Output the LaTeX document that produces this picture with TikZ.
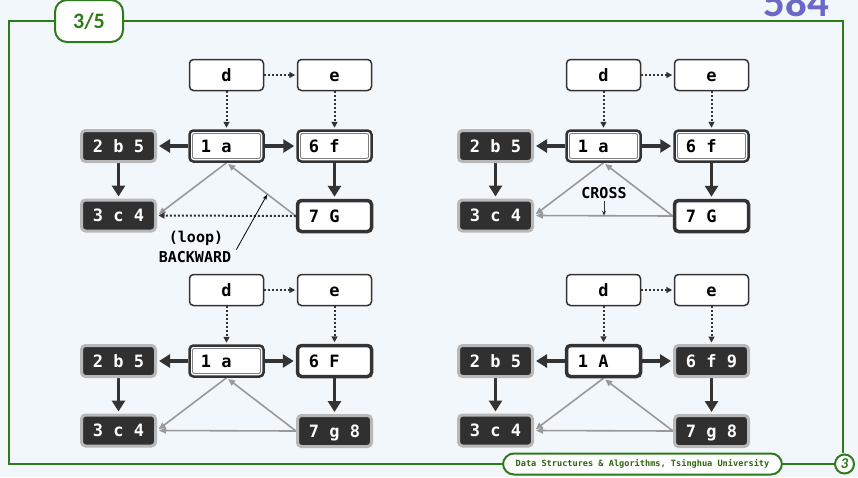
\documentclass[tikz,border=0pt]{standalone}
\usepackage{fontspec}
\setmonofont{DejaVu Sans Mono}
\newfontfamily\carlito{Carlito}
\usetikzlibrary{arrows.meta}
\definecolor{bg}{HTML}{F2F7FC}
\definecolor{frame}{HTML}{2F7A1A}
\definecolor{ftext}{HTML}{2E6410}
\definecolor{dk}{HTML}{333333}
\definecolor{fin}{HTML}{303030}
\definecolor{finb}{HTML}{B8B8B8}
\definecolor{gedge}{HTML}{999999}
\definecolor{purp}{HTML}{6B68C9}
\pgfdeclarelayer{back}
\pgfsetlayers{back,main}
\tikzset{
 vtx/.style={rounded corners=4pt, minimum width=74pt, minimum height=31pt, inner sep=0pt,
   text height=14pt, text depth=2pt, font=\ttfamily\bfseries\fontsize{17}{17}\selectfont, text=black},
 plainv/.style={vtx, draw=dk, line width=1.5pt, fill=white},
 discv/.style={vtx, draw=dk, line width=2.5pt, fill=white,
   path picture={\draw[gray, line width=0.9pt, rounded corners=2pt]
     ([shift={(3pt,-3pt)}]path picture bounding box.north west) rectangle
     ([shift={(-3pt,3pt)}]path picture bounding box.south east);}},
 curv/.style={vtx, draw=dk, line width=3.5pt, fill=white},
 finv/.style={vtx, draw=finb, line width=3pt, fill=fin, text=white},
 treeedge/.style={draw=dk, line width=3.5pt, -{Triangle[length=11pt,width=13pt]}, shorten >=2pt},
 dotedge/.style={draw=dk, line width=2pt, dash pattern=on 2pt off 2pt, -{Triangle[length=6pt,width=6pt]}, shorten >=1.5pt},
 grayedge/.style={draw=gedge, line width=1.6pt, -{Triangle[length=7pt,width=6pt]}, shorten >=2pt},
 lbl/.style={font=\ttfamily\bfseries\fontsize{15}{15}\selectfont, inner sep=0pt, text=black},
 pointer/.style={draw=black, line width=0.8pt, -{Stealth[length=6pt,width=4pt]}},
 greenline/.style={draw=frame, line width=2pt},
}
\begin{document}
\begin{tikzpicture}[x=1pt,y=-1pt]
\useasboundingbox (0,0) rectangle (858,477);
\begin{pgfonlayer}{back}
\fill[bg] (0,0) rectangle (858,477);
\draw[greenline] (834,464) -- (9,464) -- (9,21) -- (843,21) -- (843,453);
\end{pgfonlayer}

% header / footer
\node[draw=frame, line width=2pt, fill=white, rounded corners=12pt, minimum width=68pt, minimum height=42pt,
  inner sep=0pt, text=frame, font=\carlito\bfseries\fontsize{22}{22}\selectfont] (tab) at (89,21) {3/5};
\node[anchor=base east, inner sep=0pt, text=purp, font=\carlito\bfseries\fontsize{43}{43}\selectfont] (pg) at (829,16) {584};
\node[draw=frame, line width=2pt, fill=white, rounded corners=11pt, minimum width=279pt, minimum height=21pt,
  inner sep=0pt, text=ftext, font=\ttfamily\bfseries\fontsize{8.6}{9}\selectfont] (foot) at (642.5,464)
  {Data Structures \& Algorithms, Tsinghua University};
\node[draw=frame, line width=2pt, fill=white, circle, minimum size=19pt, inner sep=0pt, text=frame,
  font=\carlito\bfseries\itshape\fontsize{15}{15}\selectfont] (pnum) at (844.5,464) {3};

% ---------- diagram A (top left) ----------
\node[plainv] (Ad) at (226.5,75) {d};
\node[plainv] (Ae) at (334.5,75) {e};
\node[discv] (A1) at (226.5,146) {1 a\hphantom{00}};
\node[discv] (A6) at (334.5,146) {6 f\hphantom{00}};
\node[finv] (A2) at (118.5,146) {2 b 5};
\node[finv] (A3) at (118.5,215.5) {3 c 4};
\node[curv] (A7) at (334.5,216) {7 G\hphantom{00}};
\node[lbl] (Aloop) at (196,238) {(loop)};
\node[lbl] (Abwd) at (195,257.5) {BACKWARD};
\begin{pgfonlayer}{back}
\draw[dotedge] (Ad) -- (Ae);
\draw[dotedge] (Ad) -- (A1);
\draw[dotedge] (Ae) -- (A6);
\draw[treeedge] (A1) -- (A2);
\draw[treeedge] (A1) -- (A6);
\draw[treeedge] (A2) -- (A3);
\draw[treeedge] (A6) -- (A7);
\draw[grayedge] (A1.south) -- (A3.east);
\draw[grayedge] (A7.west) -- (A1.south);
\draw[dotedge] (A7.west) -- (A3.east);
\end{pgfonlayer}
\path (A7.west) -- (A1.south) coordinate[pos=0.41] (Abw);
\draw[pointer] ([shift={(5pt,2pt)}]Abwd.north east) -- (Abw);

% ---------- diagram B (top right) ----------
\begin{scope}[shift={(377,0)}]
\node[plainv] (Bd) at (226.5,75) {d};
\node[plainv] (Be) at (334.5,75) {e};
\node[discv] (B1) at (226.5,146) {1 a\hphantom{00}};
\node[discv] (B6) at (334.5,146) {6 f\hphantom{00}};
\node[finv] (B2) at (118.5,146) {2 b 5};
\node[finv] (B3) at (118.5,215.5) {3 c 4};
\node[curv] (B7) at (334.5,216) {7 G\hphantom{00}};
\node[lbl] (Bcross) at (227,193) {CROSS};
\end{scope}
\begin{pgfonlayer}{back}
\draw[dotedge] (Bd) -- (Be);
\draw[dotedge] (Bd) -- (B1);
\draw[dotedge] (Be) -- (B6);
\draw[treeedge] (B1) -- (B2);
\draw[treeedge] (B1) -- (B6);
\draw[treeedge] (B2) -- (B3);
\draw[treeedge] (B6) -- (B7);
\draw[grayedge] (B1.south) -- (B3.east);
\draw[grayedge] (B7.west) -- (B1.south);
\draw[grayedge] (B7.west) -- (B3.east);
\end{pgfonlayer}
\path (B7.west) -- (B3.east) coordinate[pos=0.5] (Bcr);
\draw[draw=dk, line width=0.8pt, -{Stealth[length=5pt,width=4pt]}] ([yshift=-2pt]Bcross.south) -- (Bcross.south |- Bcr);

% ---------- diagram C (bottom left) ----------
\begin{scope}[shift={(0,215)}]
\node[plainv] (Cd) at (226.5,75) {d};
\node[plainv] (Ce) at (334.5,75) {e};
\node[discv] (C1) at (226.5,146) {1 a\hphantom{00}};
\node[curv] (C6) at (334.5,146) {6 F\hphantom{00}};
\node[finv] (C2) at (118.5,146) {2 b 5};
\node[finv] (C3) at (118.5,215.5) {3 c 4};
\node[finv] (C7) at (334.5,216) {7 g 8};
\end{scope}
\begin{pgfonlayer}{back}
\draw[dotedge] (Cd) -- (Ce);
\draw[dotedge] (Cd) -- (C1);
\draw[dotedge] (Ce) -- (C6);
\draw[treeedge] (C1) -- (C2);
\draw[treeedge] (C1) -- (C6);
\draw[treeedge] (C2) -- (C3);
\draw[treeedge] (C6) -- (C7);
\draw[grayedge] (C1.south) -- (C3.east);
\draw[grayedge] (C7.west) -- (C1.south);
\draw[grayedge] (C7.west) -- (C3.east);
\end{pgfonlayer}

% ---------- diagram D (bottom right) ----------
\begin{scope}[shift={(377,215)}]
\node[plainv] (Dd) at (226.5,75) {d};
\node[plainv] (De) at (334.5,75) {e};
\node[curv] (D1) at (226.5,146) {1 A\hphantom{00}};
\node[finv] (D6) at (334.5,146) {6 f 9};
\node[finv] (D2) at (118.5,146) {2 b 5};
\node[finv] (D3) at (118.5,215.5) {3 c 4};
\node[finv] (D7) at (334.5,216) {7 g 8};
\end{scope}
\begin{pgfonlayer}{back}
\draw[dotedge] (Dd) -- (De);
\draw[dotedge] (Dd) -- (D1);
\draw[dotedge] (De) -- (D6);
\draw[treeedge] (D1) -- (D2);
\draw[treeedge] (D1) -- (D6);
\draw[treeedge] (D2) -- (D3);
\draw[treeedge] (D6) -- (D7);
\draw[grayedge] (D1.south) -- (D3.east);
\draw[grayedge] (D7.west) -- (D1.south);
\draw[grayedge] (D7.west) -- (D3.east);
\end{pgfonlayer}
\end{tikzpicture}
\end{document}
